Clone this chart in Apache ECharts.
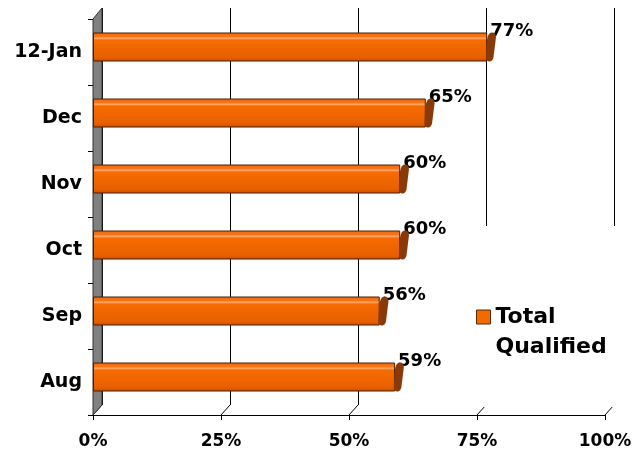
<!DOCTYPE html>
<html><head><meta charset="utf-8">
<script src="https://cdn.jsdelivr.net/npm/echarts@6/dist/echarts.min.js"></script>
<style>html,body{margin:0;padding:0;background:#fff}#c{width:644px;height:455px}</style>
</head><body><div id="c"></div>
<script>
const categories = ['Aug', 'Sep', 'Oct', 'Nov', 'Dec', '12-Jan'];
const totalQualified = [59, 56, 60, 60, 65, 77];
const seriesName = 'Total Qualified';
const xMin = 0, xMax = 100, xStep = 25;

const FONT = 'DejaVu Sans';
const chart = echarts.init(document.getElementById('c'));
const capPath = 'path://M6,0 Q10,0 10,5 L7.5,25 Q6.5,29 3.5,29 Q0,29 0,24 L1,8 Q2,0 6,0 Z';

chart.setOption({
  animation: false,
  backgroundColor: '#fff',
  grid: [
    {left: 93, right: 39, top: 19, bottom: 40},
    {left: 102, right: 30, top: 8, bottom: 50},
    {left: 93, right: 39, top: 14, bottom: 45}
  ],
  xAxis: [
    {gridIndex: 0, type: 'value', min: xMin, max: xMax, interval: xStep,
     axisLine: {show: true, lineStyle: {color: '#000', width: 1}},
     axisTick: {show: true, length: 5, lineStyle: {color: '#000'}},
     splitLine: {show: false},
     axisLabel: {formatter: '{value}%', color: '#000', fontFamily: FONT, fontWeight: 'bold', fontSize: 17, margin: 18}},
    {gridIndex: 1, type: 'value', min: xMin, max: xMax, interval: xStep,
     axisLine: {show: false}, axisTick: {show: false}, axisLabel: {show: false},
     splitLine: {show: true, lineStyle: {color: '#000', width: 1}}},
    {gridIndex: 2, type: 'value', min: xMin, max: xMax, interval: xStep, show: false}
  ],
  yAxis: [
    {gridIndex: 0, type: 'category', data: categories,
     axisLine: {show: true, lineStyle: {color: '#000'}},
     axisTick: {show: true, length: 5, lineStyle: {color: '#000'}},
     axisLabel: {color: '#000', fontFamily: FONT, fontWeight: 'bold', fontSize: 19, margin: 11}},
    {gridIndex: 1, type: 'category', data: categories, show: false},
    {gridIndex: 2, type: 'category', data: categories, show: false}
  ],
  legend: {
    left: 468, top: 226,
    padding: [46, 16, 45, 8],
    backgroundColor: '#fff',
    z: 10,
    itemWidth: 14, itemHeight: 14, itemGap: 0,
    data: [{name: seriesName, icon: 'rect',
            itemStyle: {color: '#F26A00', borderColor: '#5a2a00', borderWidth: 1}}],
    formatter: () => ' \nTotal\nQualified',
    textStyle: {color: '#000', fontFamily: FONT, fontWeight: 'bold', fontSize: 22, lineHeight: 30}
  },
  series: [
    {
      name: seriesName, type: 'bar', xAxisIndex: 2, yAxisIndex: 2,
      data: totalQualified, barWidth: 29, z: 3,
      itemStyle: {
        borderColor: '#4a2000', borderWidth: 1,
        color: new echarts.graphic.LinearGradient(0, 0, 0, 1, [
          {offset: 0, color: '#F06A10'},
          {offset: 0.14, color: '#F87418'},
          {offset: 0.2, color: '#FFA868'},
          {offset: 0.26, color: '#F66C00'},
          {offset: 0.85, color: '#E86000'},
          {offset: 1, color: '#C85000'}
        ])
      },
      label: {show: true, position: 'right', offset: [-2, -16], formatter: '{c}%',
              color: '#000', fontFamily: FONT, fontWeight: 'bold', fontSize: 18}
    },
    {
      name: 'cap', type: 'pictorialBar', xAxisIndex: 2, yAxisIndex: 2,
      data: totalQualified, symbol: capPath, symbolSize: [10, 29],
      symbolPosition: 'end', symbolOffset: ['90%', 0], z: 4,
      itemStyle: {color: '#8A3A08', borderColor: '#3a1800', borderWidth: 1}
    }
  ]
});

// left side wall and floor connectors (decoration), placed from the axis scales
function drawWall() {
  const grid0 = chart.getModel().getComponent('grid', 0).coordinateSystem.getRect();
  const grid1 = chart.getModel().getComponent('grid', 1).coordinateSystem.getRect();
  const pts = [
    [grid0.x, grid0.y], [grid1.x, grid1.y],
    [grid1.x, grid1.y + grid1.height], [grid0.x, grid0.y + grid0.height]
  ];
  const lines = [];
  for (let v = xMin; v <= xMax; v += xStep) {
    const a = chart.convertToPixel({xAxisIndex: 0}, v);
    const b = chart.convertToPixel({xAxisIndex: 1}, v);
    lines.push({type: 'line', z: 1, shape: {x1: b, y1: grid1.y + grid1.height, x2: a, y2: grid0.y + grid0.height},
                style: {stroke: '#000', lineWidth: 1}});
  }
  chart.setOption({graphic: [
    {type: 'polygon', z: 2, shape: {points: pts}, style: {fill: '#808080', stroke: '#333', lineWidth: 1}}
  ].concat(lines)});
}
drawWall();
</script></body></html>
